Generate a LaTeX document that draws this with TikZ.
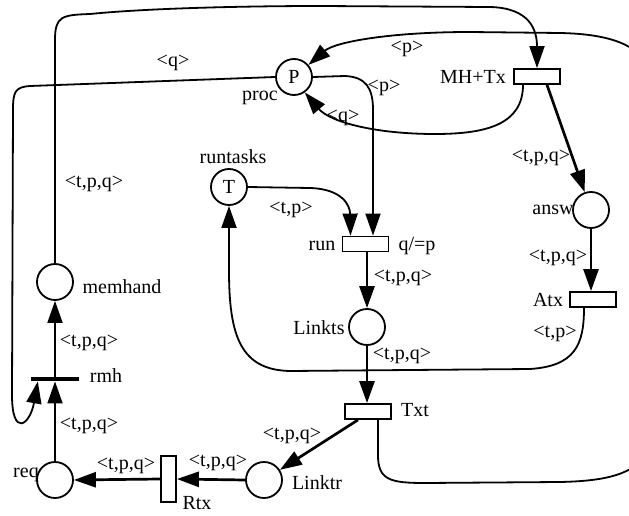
\documentclass[tikz,border=0pt]{standalone}
\usepackage{fontspec}
\setmainfont{Liberation Serif}
\usetikzlibrary{arrows.meta}
\begin{document}
\begin{tikzpicture}[x=1pt,y=-1pt,
  font=\fontsize{20}{24}\selectfont,
  place/.style={circle,draw,line width=1.8pt,minimum size=36pt,inner sep=0pt},
  trans/.style={rectangle,draw,line width=1.8pt,minimum width=46pt,minimum height=15pt,inner sep=0pt},
  vtrans/.style={trans,minimum width=15pt,minimum height=46pt},
  bar/.style={rectangle,fill=black,minimum width=48pt,minimum height=4.5pt,inner sep=0pt},
  lbl/.style={inner sep=0pt,text height=13pt,text depth=4pt},
  arc/.style={line width=1.8pt,-{Triangle[length=22pt,width=15pt]}},
  tarc/.style={arc,line width=2.7pt}
]
\useasboundingbox (0,0) rectangle (629,516);

% places
\node[place] (P) at (294,77) {P};
\node[place] (T) at (229,187) {T};
\node[place] (answ) at (591,210) {};
\node[place] (memhand) at (55,282) {};
\node[place] (Linkts) at (367,327) {};
\node[place] (req) at (55,480) {};
\node[place] (Linktr) at (264,480) {};
% transitions
\node[trans] (MHTx) at (537,76.5) {};
\node[trans] (run) at (365.5,244) {};
\node[trans] (Atx) at (593,299.5) {};
\node[trans] (Txt) at (368,411.5) {};
\node[vtrans] (Rtx) at (168.5,479) {};
\node[bar] (rmh) at (55,379) {};

% node names
\node[lbl] (nproc) at (260,96) {proc};
\node[lbl] (nruntasks) at (233,159) {runtasks};
\node[lbl] (nMHTx) at (473,79) {MH+Tx};
\node[lbl] (nrun) at (322,246) {run};
\node[lbl] (nguard) at (417,246) {q/=p};
\node[lbl] (nansw) at (553,210) {answ};
\node[lbl] (nAtx) at (548,302) {Atx};
\node[lbl] (nmemhand) at (122,289) {memhand};
\node[lbl] (nLinkts) at (319,330) {Linkts};
\node[lbl] (nTxt) at (415,412) {Txt};
\node[lbl] (nrmh) at (106,378) {rmh};
\node[lbl] (nreq) at (26,473) {req};
\node[lbl] (nLinktr) at (317,485) {Linktr};
\node[lbl] (nRtx) at (197,505) {Rtx};

% arc labels
\node[lbl] (a1) at (173,62) {<q>};
\node[lbl] (a2) at (407,48) {<p>};
\node[lbl] (a3) at (384,87) {<p>};
\node[lbl] (a4) at (343,117) {<q>};
\node[lbl] (a5) at (541,157) {<t,p,q>};
\node[lbl] (a6) at (94,183) {<t,p,q>};
\node[lbl] (a7) at (291,209) {<t,p>};
\node[lbl] (a8) at (558,257) {<t,p,q>};
\node[lbl] (a9) at (403,277) {<t,p,q>};
\node[lbl] (a10) at (555,333) {<t,p>};
\node[lbl] (a11) at (89,342) {<t,p,q>};
\node[lbl] (a12) at (402,355) {<t,p,q>};
\node[lbl] (a13) at (89,425) {<t,p,q>};
\node[lbl] (a14) at (292,435) {<t,p,q>};
\node[lbl] (a15) at (218,462) {<t,p,q>};
\node[lbl] (a16) at (126,465) {<t,p,q>};

% arcs
\draw[arc] (memhand.north) -- (55,40) .. controls (55,16) and (62,15) .. (90,14)
  .. controls (150,8) and (250,6) .. (320,6) -- (490,7)
  .. controls (530,8) and (537,30) .. (MHTx.north);
\draw[arc] (P.west) -- (30,86) .. controls (15,87) and (13,92) .. (13,110)
  -- (12,395) .. controls (12,438) and (30,425) .. ([xshift=7pt]rmh.south west);
\draw[arc] (req.north) -- (rmh.south);
\draw[arc] (rmh.north) -- (memhand.south);
\draw[tarc] (Linktr.west) -- (Rtx.east);
\draw[tarc] (Rtx.west) -- (req.east);
\draw[tarc] ([xshift=-10pt]Txt.south) -- (Linktr);
\draw[tarc] (Linkts.south) -- (Linkts.south |- Txt.north);
\draw[tarc] (run.south -| Linkts) -- (Linkts.north);
\draw[arc] (T.east) -- (310,188) .. controls (342,189) and (350,205) .. ([xshift=-15pt]run.north);
\draw[arc] (P.east) -- (345,76) .. controls (366,77) and (373,88) .. (373,110) -- ([xshift=7.5pt]run.north);
\draw[arc] ([xshift=-14pt]MHTx.south) .. controls (523,125) and (485,134) .. (435,134)
  .. controls (375,134) and (330,122) .. (P.-55);
\begin{scope}
\clip (0,0) rectangle (629,516);
\draw[arc] ([xshift=10pt]Txt.south) -- (378,455) .. controls (378,480) and (390,483) .. (425,483)
  -- (560,482) .. controls (605,481) and (635,475) .. (650,450) -- (650,70)
  .. controls (640,45) and (610,34) .. (560,33) -- (470,32)
  .. controls (390,32) and (335,42) .. (P.40);
\end{scope}
\draw[tarc] ([xshift=10pt]MHTx.south) -- (answ);
\draw[tarc] (answ.south) -- (answ.south |- Atx.north);
\draw[arc] ([xshift=-9pt]Atx.south) .. controls (584,345) and (575,366) .. (530,369)
  -- (290,371) .. controls (240,370) and (229,335) .. (229,270) -- (T.south);
\end{tikzpicture}
\end{document}
